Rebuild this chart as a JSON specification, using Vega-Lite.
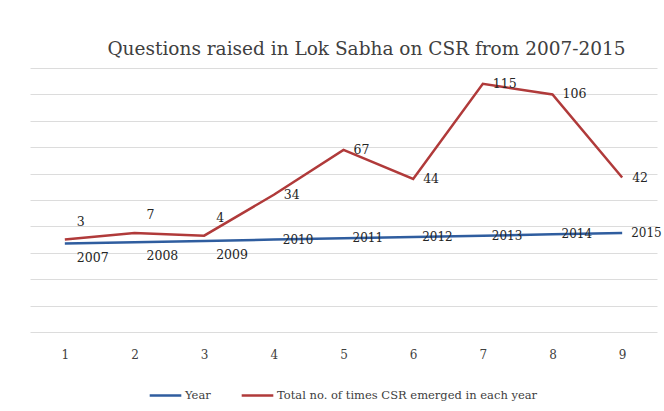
{
  "$schema": "https://vega.github.io/schema/vega-lite/v6.json",
  "width": 627,
  "height": 264,
  "autosize": {"type": "none"},
  "padding": {"left": 30, "top": 68, "right": 7, "bottom": 79},
  "background": "white",
  "title": {
    "text": "Questions raised in Lok Sabha on CSR from 2007-2015",
    "font": "DejaVu Serif",
    "fontSize": 18.5,
    "fontWeight": "normal",
    "color": "#404040",
    "anchor": "middle",
    "offset": 10,
    "dx": 23
  },
  "data": {
    "values": [
      {"x": 1, "series": "Year", "value": 2007},
      {"x": 2, "series": "Year", "value": 2008},
      {"x": 3, "series": "Year", "value": 2009},
      {"x": 4, "series": "Year", "value": 2010},
      {"x": 5, "series": "Year", "value": 2011},
      {"x": 6, "series": "Year", "value": 2012},
      {"x": 7, "series": "Year", "value": 2013},
      {"x": 8, "series": "Year", "value": 2014},
      {"x": 9, "series": "Year", "value": 2015},
      {"x": 1, "series": "Total no. of times CSR emerged in each year", "value": 3},
      {"x": 2, "series": "Total no. of times CSR emerged in each year", "value": 7},
      {"x": 3, "series": "Total no. of times CSR emerged in each year", "value": 4},
      {"x": 4, "series": "Total no. of times CSR emerged in each year", "value": 34},
      {"x": 5, "series": "Total no. of times CSR emerged in each year", "value": 67},
      {"x": 6, "series": "Total no. of times CSR emerged in each year", "value": 44},
      {"x": 7, "series": "Total no. of times CSR emerged in each year", "value": 115},
      {"x": 8, "series": "Total no. of times CSR emerged in each year", "value": 106},
      {"x": 9, "series": "Total no. of times CSR emerged in each year", "value": 42}
    ]
  },
  "transform": [
    {"stack": "value", "groupby": ["x"], "sort": [{"field": "series", "order": "descending"}], "as": ["v0", "v1"]}
  ],
  "encoding": {
    "x": {
      "field": "x",
      "type": "ordinal",
      "axis": {
        "title": null,
        "labelAngle": 0,
        "domain": false,
        "ticks": false,
        "grid": false,
        "labelPadding": 17,
        "labelFont": "DejaVu Serif",
        "labelFontSize": 12,
        "labelColor": "#404040"
      }
    },
    "y": {
      "field": "v1",
      "type": "quantitative",
      "scale": {"domain": [1940, 2140], "nice": false, "zero": false},
      "axis": {
        "title": null,
        "labels": false,
        "ticks": false,
        "domain": false,
        "grid": true,
        "gridColor": "#dcdcdc",
        "gridWidth": 1,
        "values": [1940, 1960, 1980, 2000, 2020, 2040, 2060, 2080, 2100, 2120, 2140]
      }
    }
  },
  "layer": [
    {
      "mark": {"type": "line", "strokeWidth": 2.5},
      "encoding": {
        "color": {
          "field": "series",
          "type": "nominal",
          "scale": {
            "domain": ["Year", "Total no. of times CSR emerged in each year"],
            "range": ["#2f5d9f", "#b03a3a"]
          },
          "legend": {
            "orient": "none",
            "legendX": 118,
            "legendY": 310,
            "direction": "horizontal",
            "title": null,
            "symbolType": "stroke",
            "symbolSize": 1000,
            "symbolStrokeWidth": 2.5,
            "labelFont": "DejaVu Serif",
            "labelFontSize": 11.5,
            "labelColor": "#404040",
            "labelLimit": 0,
            "labelOffset": 2,
            "columnPadding": 25
          }
        }
      }
    },
    {
      "transform": [{"filter": "datum.series == 'Year' && datum.x <= 3"}],
      "mark": {"type": "text", "align": "left", "baseline": "middle", "dx": 12, "dy": 14, "font": "DejaVu Serif", "fontSize": 12.5, "color": "#262626"},
      "encoding": {"text": {"field": "value", "type": "quantitative", "format": "d"}}
    },
    {
      "transform": [{"filter": "datum.series == 'Year' && datum.x > 3"}],
      "mark": {"type": "text", "align": "left", "baseline": "middle", "dx": 9, "dy": 0, "font": "DejaVu Serif", "fontSize": 12, "color": "#262626"},
      "encoding": {"text": {"field": "value", "type": "quantitative", "format": "d"}}
    },
    {
      "transform": [{"filter": "datum.series != 'Year' && datum.x <= 3"}],
      "mark": {"type": "text", "align": "left", "baseline": "middle", "dx": 12, "dy": -18, "font": "DejaVu Serif", "fontSize": 12.5, "color": "#262626"},
      "encoding": {"text": {"field": "value", "type": "quantitative", "format": "d"}}
    },
    {
      "transform": [{"filter": "datum.series != 'Year' && datum.x > 3"}],
      "mark": {"type": "text", "align": "left", "baseline": "middle", "dx": 10, "dy": 0, "font": "DejaVu Serif", "fontSize": 12.5, "color": "#262626"},
      "encoding": {"text": {"field": "value", "type": "quantitative", "format": "d"}}
    }
  ],
  "config": {"view": {"stroke": null}}
}
